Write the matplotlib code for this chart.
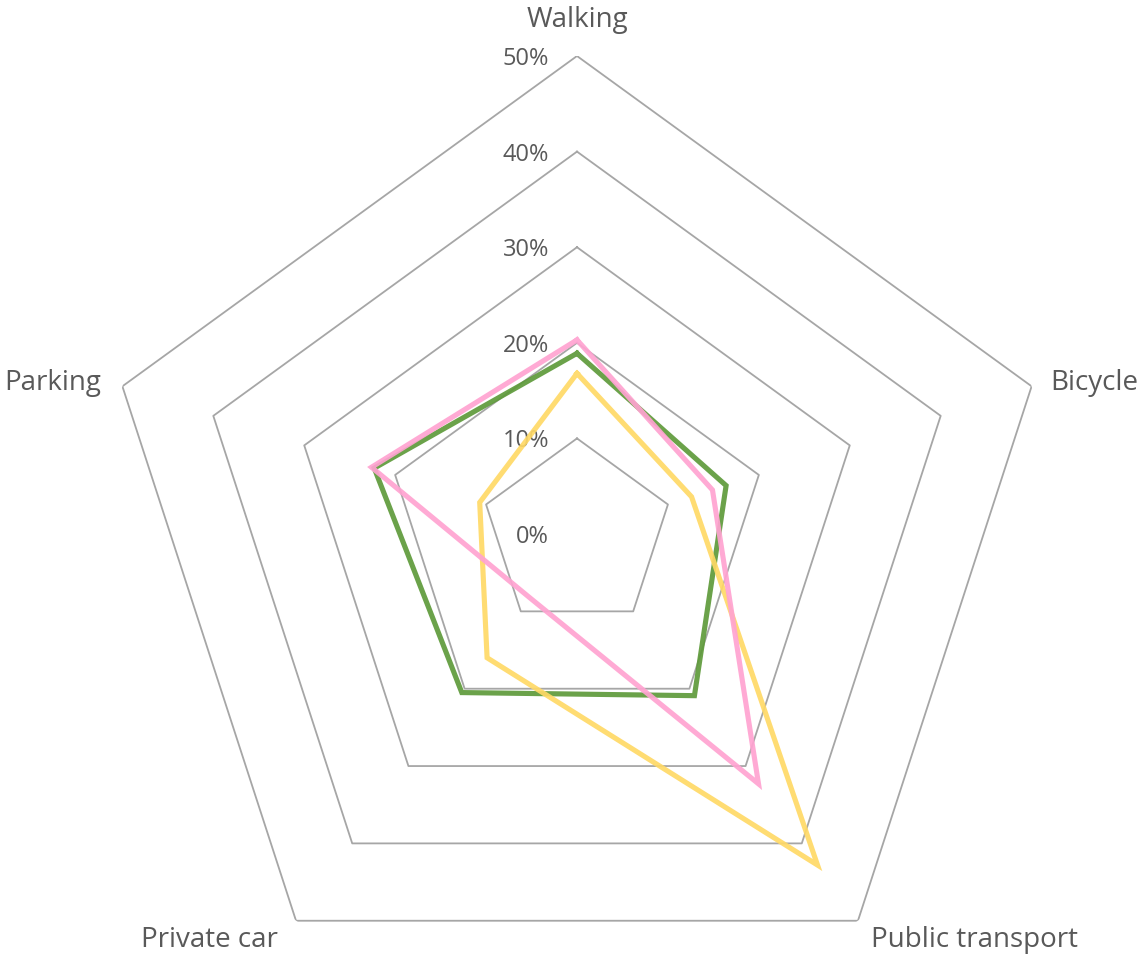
import numpy as np
import matplotlib
matplotlib.use("Agg")
import matplotlib.pyplot as plt

plt.rcParams['font.family'] = ['Open Sans', 'DejaVu Sans']

categories = ['Walking', 'Bicycle', 'Public transport', 'Private car', 'Parking']
ring_values = [10, 20, 30, 40, 50]
ring_labels = ['0%', '10%', '20%', '30%', '40%', '50%']

# three series, values in percent
series_green = [18.9, 16.4, 20.9, 20.5, 22.3]
series_yellow = [16.8, 12.6, 42.8, 16.0, 10.7]
series_pink = [20.3, 14.9, 32.3, 8.3, 22.6]

text_col = '#595959'
grid_col = '#A6A6A6'

fig = plt.figure(figsize=(11.47, 9.59), dpi=100)
ax = fig.add_axes([0.0863, -0.0553, 0.8335, 0.9969], projection='polar')
ax.set_theta_zero_location('N')
ax.set_theta_direction(-1)
ax.set_ylim(0, 50)
ax.grid(False)
ax.spines['polar'].set_visible(False)
ax.set_xticks([])
ax.set_yticks([])
ax.patch.set_alpha(0)

n = len(categories)
theta = np.linspace(0, 2 * np.pi, n, endpoint=False)
theta_c = np.append(theta, theta[0])

# pentagon grid
for r in ring_values:
    ax.plot(theta_c, [r] * (n + 1), color=grid_col, lw=1.3, zorder=1)

# radial labels left of the top axis
for i, lab in enumerate(ring_labels):
    ax.annotate(lab, xy=(0, i * 10), xytext=(-28, -9), textcoords='offset pixels',
                ha='right', va='baseline', fontsize=17, color=text_col,
                annotation_clip=False)

# data
for vals, col in [(series_green, '#5E9A3A'), (series_yellow, '#FFD966'),
                  (series_pink, '#FFA3D1')]:
    ax.plot(theta_c, vals + vals[:1], color=col, lw=3.7, zorder=3,
            solid_joinstyle='miter', alpha=0.92)

# category labels
offsets = [(0, 29, 'center'), (19, -4, 'left'), (13, -26, 'left'),
           (-18, -26, 'right'), (-21, -4, 'right')]
for t, lab, (dx, dy, ha) in zip(theta, categories, offsets):
    ax.annotate(lab, xy=(t, 50), xytext=(dx, dy), textcoords='offset pixels',
                ha=ha, va='baseline', fontsize=20, color=text_col,
                annotation_clip=False)

fig.savefig('out.png', dpi=100)
